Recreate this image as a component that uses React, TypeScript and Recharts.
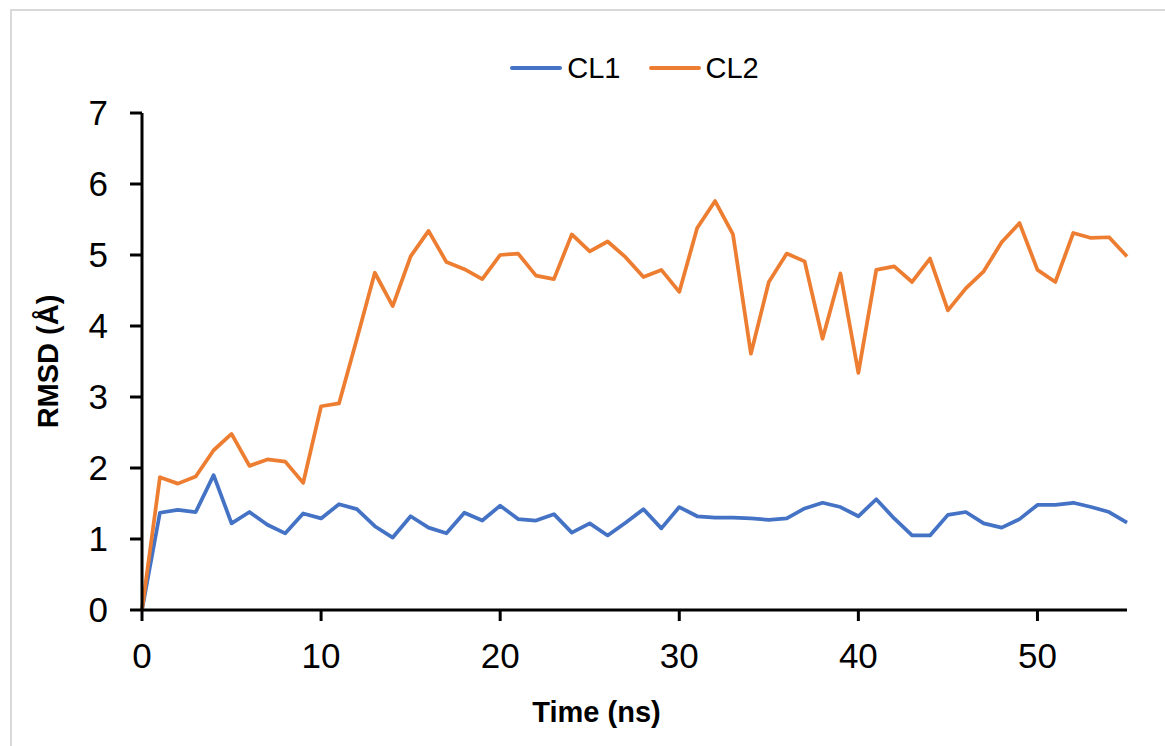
import { CartesianGrid, Label, Legend, Line, LineChart, XAxis, YAxis } from "recharts";

const times = [
  0, 1, 2, 3, 4, 5, 6, 7, 8, 9, 10, 11, 12, 13, 14, 15, 16, 17, 18, 19, 20, 21, 22, 23, 24, 25, 26, 27,
  28, 29, 30, 31, 32, 33, 34, 35, 36, 37, 38, 39, 40, 41, 42, 43, 44, 45, 46, 47, 48, 49, 50, 51, 52, 53,
  54, 55,
];

const cl1 = [
  0, 1.37, 1.41, 1.38, 1.9, 1.22, 1.38, 1.2, 1.08, 1.36, 1.29, 1.49, 1.42, 1.18, 1.02, 1.32, 1.16, 1.08,
  1.37, 1.26, 1.47, 1.28, 1.26, 1.35, 1.09, 1.22, 1.05, 1.23, 1.42, 1.15, 1.45, 1.32, 1.3, 1.3, 1.29, 1.27,
  1.29, 1.43, 1.51, 1.45, 1.32, 1.56, 1.29, 1.05, 1.05, 1.34, 1.38, 1.22, 1.16, 1.28, 1.48, 1.48, 1.51,
  1.45, 1.38, 1.23,
];

const cl2 = [
  0, 1.87, 1.78, 1.88, 2.25, 2.48, 2.03, 2.12, 2.09, 1.79, 2.87, 2.91, 3.82, 4.75, 4.28, 4.98, 5.34, 4.9,
  4.8, 4.66, 5.0, 5.02, 4.71, 4.66, 5.29, 5.05, 5.19, 4.97, 4.69, 4.79, 4.48, 5.38, 5.76, 5.29, 3.61, 4.62,
  5.02, 4.91, 3.82, 4.74, 3.34, 4.79, 4.84, 4.62, 4.95, 4.22, 4.53, 4.77, 5.18, 5.45, 4.79, 4.62, 5.31,
  5.24, 5.25, 4.98,
];

const xTicks = [0, 10, 20, 30, 40, 50];
const yTicks = [0, 1, 2, 3, 4, 5, 6, 7];

const series = [
  { key: "cl1", name: "CL1", color: "#4472C4" },
  { key: "cl2", name: "CL2", color: "#ED7D31" },
];

const data = times.map((t, i) => ({ t, cl1: cl1[i], cl2: cl2[i] }));

const FONT = '"Liberation Sans", Arial, sans-serif';

function LegendBox() {
  return (
    <div style={{ height: 68, display: "flex", justifyContent: "center", alignItems: "flex-start" }}>
      {series.map((s, i) => (
        <div
          key={s.key}
          style={{ display: "flex", alignItems: "center", height: 46, marginLeft: i ? 28 : 0 }}
        >
          <span
            style={{
              display: "inline-block",
              width: 52,
              height: 4,
              borderRadius: 2,
              background: s.color,
              marginRight: 5,
            }}
          />
          <span style={{ fontSize: 29, color: "#000", lineHeight: "46px" }}>{s.name}</span>
        </div>
      ))}
    </div>
  );
}

function YTitle(props: any) {
  const { viewBox } = props;
  const cx = viewBox.x + 48;
  const cy = viewBox.y + viewBox.height / 2;
  return (
    <text
      x={cx}
      y={cy}
      transform={`rotate(-90, ${cx}, ${cy})`}
      textAnchor="middle"
      dominantBaseline="central"
      fontSize={29}
      fontWeight="bold"
      fill="#000"
    >
      RMSD (Å)
    </text>
  );
}

function XTitle(props: any) {
  const { viewBox } = props;
  return (
    <text
      x={viewBox.x + viewBox.width / 2 - 38}
      y={712}
      textAnchor="middle"
      dominantBaseline="central"
      fontSize={29}
      fontWeight="bold"
      fill="#000"
    >
      Time (ns)
    </text>
  );
}

export default function App() {
  return (
    <div
      style={{
        position: "absolute",
        left: 0,
        top: 0,
        width: 1165,
        height: 746,
        background: "#fff",
        overflow: "hidden",
        fontFamily: FONT,
      }}
    >
      <div
        style={{
          position: "absolute",
          left: 10,
          top: 9,
          width: 1200,
          height: 800,
          border: "2.5px solid #d9d9d9",
        }}
      />
      <div style={{ position: "absolute", left: 0, top: 0 }}>
        <LineChart width={1165} height={746} data={data} margin={{ top: 45, right: 38, left: 0, bottom: 0 }}>
          <CartesianGrid horizontal={false} vertical={false} />
          <XAxis
            dataKey="t"
            type="number"
            domain={[0, 55]}
            ticks={xTicks}
            height={136}
            tickSize={11}
            tickMargin={22}
            axisLine={{ stroke: "#000", strokeWidth: 3 }}
            tickLine={{ stroke: "#000", strokeWidth: 3 }}
            tick={{ fill: "#000", fontSize: 35, fontFamily: FONT }}
            interval={0}
          >
            <Label content={XTitle} />
          </XAxis>
          <YAxis
            type="number"
            domain={[0, 7]}
            ticks={yTicks}
            width={142}
            tickSize={12}
            tickMargin={22}
            axisLine={{ stroke: "#000", strokeWidth: 3 }}
            tickLine={{ stroke: "#000", strokeWidth: 3 }}
            tick={{ fill: "#000", fontSize: 35, fontFamily: FONT }}
            interval={0}
          >
            <Label content={YTitle} />
          </YAxis>
          <Legend
            verticalAlign="top"
            content={LegendBox}
            wrapperStyle={{ top: 45, left: 142, width: 985 }}
          />
          {series.map((s) => (
            <Line
              key={s.key}
              type="linear"
              dataKey={s.key}
              name={s.name}
              stroke={s.color}
              strokeWidth={3.75}
              strokeLinejoin="round"
              dot={false}
              isAnimationActive={false}
            />
          ))}
        </LineChart>
      </div>
    </div>
  );
}
